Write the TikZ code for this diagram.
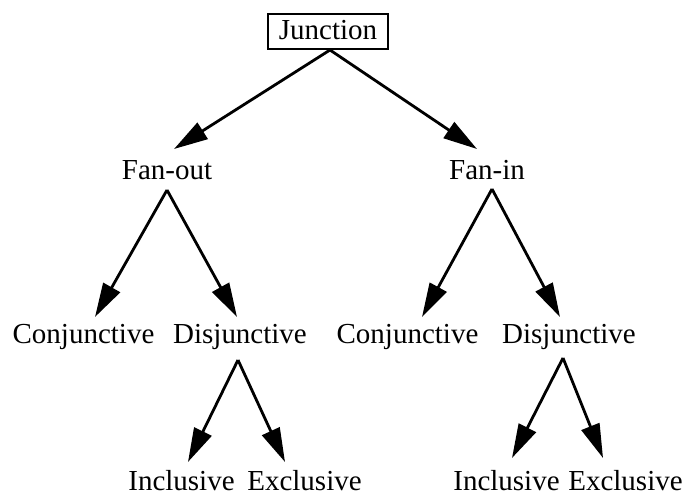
\documentclass[tikz,border=0pt]{standalone}
\usepackage{fontspec}
\setmainfont{Liberation Serif}
\usetikzlibrary{arrows.meta,calc}
\begin{document}
\begin{tikzpicture}[x=1bp,y=-1bp,
  lbl/.style={anchor=base, inner sep=0pt, font=\fontsize{29.1}{34}\selectfont},
  boxed/.style={draw, line width=2bp, inner xsep=11bp, inner ysep=0pt, text height=26bp, text depth=9bp},
  arr/.style={line width=2.8bp, -{Triangle[length=34bp,width=19bp]}}]
\useasboundingbox (0,0) rectangle (684,495);
\node[lbl,boxed] (jn) at (328,40) {Junction};
\node[lbl] (fo) at (167,180) {Fan-out};
\node[lbl] (fi) at (487,180) {Fan-in};
\node[lbl] (c1) at (83.5,343) {Conjunctive};
\node[lbl] (d1) at (240,343) {Disjunctive};
\node[lbl] (c2) at (407.5,343) {Conjunctive};
\node[lbl] (d2) at (569,343) {Disjunctive};
\node[lbl] (i1) at (181.5,490) {Inclusive};
\node[lbl] (e1) at (304.5,490) {Exclusive};
\node[lbl] (i2) at (506.5,490) {Inclusive};
\node[lbl] (e2) at (625.5,490) {Exclusive};
% arrow tips, just above the child labels
\coordinate (tfo) at (174,149);
\coordinate (tfi) at (477,149);
\coordinate (tc1) at (95,317);
\coordinate (td1) at (237,317);
\coordinate (tc2) at (422,317);
\coordinate (td2) at (560,317);
\coordinate (ti1) at (188,462);
\coordinate (te1) at (285,462);
\coordinate (ti2) at (512,458);
\coordinate (te2) at (603,458);
\draw[arr] ($(jn.base)+(2,10)$) -- (tfo);
\draw[arr] ($(jn.base)+(2,10)$) -- (tfi);
\draw[arr] ($(fo.base)+(0,10)$) -- (tc1);
\draw[arr] ($(fo.base)+(0,10)$) -- (td1);
\draw[arr] ($(fi.base)+(5,9)$) -- (tc2);
\draw[arr] ($(fi.base)+(5,9)$) -- (td2);
\draw[arr] ($(d1.base)+(-2,17)$) -- (ti1);
\draw[arr] ($(d1.base)+(-2,17)$) -- (te1);
\draw[arr] ($(d2.base)+(-6,15)$) -- (ti2);
\draw[arr] ($(d2.base)+(-6,15)$) -- (te2);
\end{tikzpicture}
\end{document}
